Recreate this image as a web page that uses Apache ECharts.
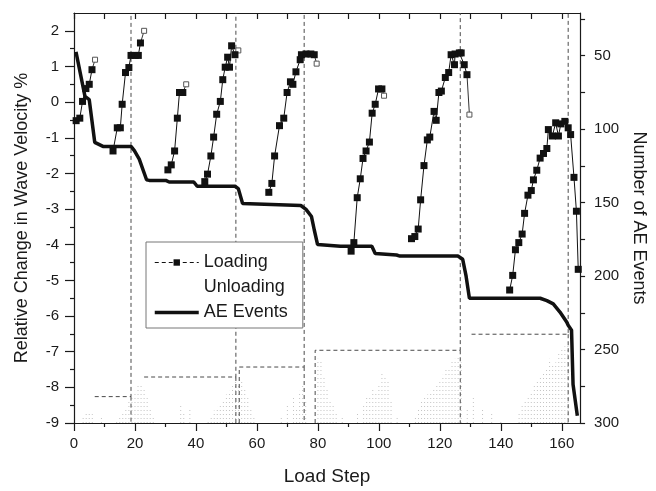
<!DOCTYPE html>
<html>
<head>
<meta charset="utf-8">
<script src="https://cdn.jsdelivr.net/npm/echarts@6/dist/echarts.min.js"></script>
<style>
html,body{margin:0;padding:0;background:#fff;}
#chart{width:656px;height:491px;}
</style>
</head>
<body>
<div id="chart"></div>
<script>
var fontName = 'Liberation Sans, Arial, sans-serif';
var ink = '#1a1a1a';

// loading groups: [load step, relative change %]
var loadGroups = [
    [[0.7,-0.52],[1.9,-0.45],[2.8,0.02],[3.9,0.38],[5.0,0.50],[5.9,0.91]],
    [[12.8,-1.37],[14.2,-0.72],[15.2,-0.72],[15.8,-0.06],[16.9,0.83],[18.0,0.97],[18.7,1.31],[20.1,1.31],[21.1,1.31],[21.8,1.66]],
    [[30.8,-1.90],[31.9,-1.76],[33.0,-1.37],[33.9,-0.45],[34.6,0.27],[35.7,0.27]],
    [[42.9,-2.23],[43.8,-2.02],[44.9,-1.51],[45.8,-0.98],[46.8,-0.34],[48.0,0.02],[48.8,0.63],[49.6,0.98],[50.4,1.26],[51.0,0.98],[51.7,1.58],[52.8,1.33]],
    [[63.9,-2.53],[64.9,-2.28],[65.8,-1.51],[67.4,-0.66],[68.8,-0.45],[69.9,0.27],[71.0,0.57],[71.8,0.50],[72.8,0.85],[74.2,1.19],[74.6,1.33],[76.1,1.35],[77.7,1.35],[78.8,1.33]],
    [[90.9,-4.18],[91.8,-3.94],[92.9,-2.68],[93.9,-2.15],[94.8,-1.58],[95.8,-1.37],[96.9,-1.12],[97.8,-0.31],[98.8,-0.06],[99.9,0.37],[101.0,0.37]],
    [[110.7,-3.83],[111.8,-3.77],[112.9,-3.56],[113.7,-2.74],[114.8,-1.78],[115.9,-1.06],[116.7,-0.98],[118.1,-0.26],[118.8,-0.51],[119.7,0.27],[120.5,0.31],[121.8,0.69],[122.9,0.83],[123.7,1.33],[124.8,1.05],[125.0,1.35],[126.4,1.38],[127.0,1.38],[128.0,1.05],[128.9,0.77]],
    [[142.9,-5.27],[143.9,-4.86],[144.8,-4.14],[145.9,-3.94],[147.0,-3.70],[147.8,-3.12],[148.9,-2.61],[150.0,-2.48],[150.7,-2.18],[151.8,-1.91],[152.9,-1.57],[154.0,-1.44],[155.1,-1.30],[155.6,-0.77],[156.9,-0.95],[158.0,-0.58],[158.9,-0.95],[159.7,-0.61],[161.0,-0.54],[162.1,-0.72],[162.9,-0.91],[164.0,-2.11],[164.8,-3.06],[165.4,-4.69]]
];
// unloading points (one per group, last group none)
var unloadX = [6.9, 23.0, 36.8, 53.9, 79.6, 101.7, 129.7];
var unloadY = [1.19, 2.0, 0.50, 1.45, 1.08, 0.18, -0.35];

// cumulative AE events (right axis)
var aeX = [0.65,3.6,5.0,6.8,7.4,9.5,18.7,19.8,21.4,23.8,24.7,30.1,31.2,39.3,40.4,52.8,53.9,55.3,74.4,76.1,77.9,78.8,79.9,87.4,97.7,98.8,105.8,106.9,125.9,127.5,128.6,129.7,152.9,155.1,157.2,159.4,161.6,162.1,163.2,163.7,165.1];
var aeN = [47.5,77.8,80,109,110.3,111.8,111.8,114.7,120.4,134.5,134.9,134.9,136,136,138.9,138.9,140.5,150.7,152,154.6,159.5,168.5,178.6,179.7,179.7,184.6,185.7,186.4,186.4,188.6,199.9,215.1,215.1,216.7,218.9,224.5,231.3,233.5,236.8,273.8,295.1];

// dashed load-level boxes (left axis units)
var boxStart = [6.8, 23.0, 54.2, 79.1, 130.4];
var boxEnd = [18.7, 53.1, 75.5, 126.7, 162.1];
var boxLevel = [-8.26, -7.71, -7.43, -6.96, -6.51];
var boxFoot = [null, null, -9, -9, null];

// faint AE hit columns near the bottom (top of column, left axis units)
var colX = [3,4,5,6,9,14,15,16,17,18,19,20,21,22,23,24,25,26,35,36,38,44,45,46,47,48,49,50,51,52,53,54,55,56,57,58,59,68,70,72,73,74,75,76,80,81,82,83,84,85,86,88,93,95,96,97,98,99,100,101,102,103,104,106,112,113,114,115,116,117,118,119,120,121,122,123,124,125,126,127,129,131,134,137,140,146,147,148,149,150,151,152,153,154,155,156,157,158,159,160,161,162];
var colTop = [-8.8,-8.7,-8.7,-8.75,-8.85,-8.9,-8.8,-8.7,-8.6,-8.4,-8.3,-8.1,-7.95,-7.9,-8.0,-8.3,-8.6,-8.8,-8.5,-8.7,-8.6,-8.9,-8.8,-8.65,-8.55,-8.5,-8.35,-8.2,-8.1,-7.95,-7.75,-7.9,-7.85,-8.05,-8.3,-8.6,-8.8,-8.8,-8.5,-8.3,-8.6,-8.1,-7.9,-8.4,-7.2,-7.25,-7.7,-8.0,-8.4,-8.5,-8.7,-8.85,-8.7,-8.5,-8.25,-8.3,-8.0,-8.1,-7.95,-7.6,-7.7,-7.8,-8.4,-8.8,-8.8,-8.6,-8.4,-8.3,-8.2,-8.1,-8.0,-7.9,-7.8,-7.65,-7.5,-7.45,-7.25,-7.2,-7.1,-7.3,-8.6,-8.3,-8.6,-8.7,-8.9,-8.7,-8.5,-8.4,-8.25,-8.1,-7.95,-7.85,-7.7,-7.6,-7.45,-7.2,-7.35,-7.3,-7.05,-6.95,-6.85,-6.75];

var xMajor = [0,20,40,60,80,100,120,140,160];
var xMinor = [10,30,50,70,90,110,130,150];
var xTop = [0,10,20,30,40,50,60,70,80,90,100,110,120,130,140,150,160];
var yMajor = [-9,-8,-7,-6,-5,-4,-3,-2,-1,0,1,2];
var yMinor = [-8.5,-7.5,-6.5,-5.5,-4.5,-3.5,-2.5,-1.5,-0.5,0.5,1.5];
var rLabels = [50,100,150,200,250,300];
var rTicks = [25,50,75,100,125,150,175,200,225,250,275,300];

var yMin = -9, yMax = 2.5, rMin = 21, rMax = 300, xMin = 0, xMax = 166;

var loadData = [];
loadGroups.forEach(function (g, k) {
    if (k > 0) loadData.push([g[0][0] - 1, '-']);
    g.forEach(function (p) { loadData.push(p); });
});

var unloadData = [];
unloadX.forEach(function (x, k) {
    var last = loadGroups[k][loadGroups[k].length - 1];
    if (k > 0) unloadData.push([last[0] - 0.5, '-']);
    unloadData.push({value: last, symbol: 'none'});
    unloadData.push([x, unloadY[k]]);
});

var aeData = aeX.map(function (x, i) { return [x, aeN[i]]; });

var boxData = [];
boxStart.forEach(function (s, k) {
    if (k > 0) boxData.push([s - 0.5, '-']);
    if (boxFoot[k] !== null) boxData.push([s, boxFoot[k]]);
    boxData.push([s, boxLevel[k]]);
    boxData.push([boxEnd[k], boxLevel[k]]);
    boxData.push([boxEnd[k], yMax]);
    boxData.push([boxEnd[k], '-']);
    boxData.push([boxEnd[k], boxLevel[k]]);
    boxData.push([boxEnd[k], yMin]);
});

var colData = [];
colX.forEach(function (x, i) {
    colData.push([x, yMin]);
    colData.push([x, colTop[i]]);
    colData.push([x, '-']);
});

var lineBlack = {color: ink, width: 1.2};

var chart = echarts.init(document.getElementById('chart'));
chart.setOption({
    animation: false,
    backgroundColor: '#fff',
    grid: {left: 74, right: 71, top: 13, bottom: 62},
    legend: {
        orient: 'vertical',
        left: 146, top: 242,
        padding: [8, 15, 3, 7],
        itemGap: 0,
        itemWidth: 44,
        itemHeight: 8,
        backgroundColor: '#fff',
        borderColor: '#777',
        borderWidth: 1,
        borderRadius: 0,
        textStyle: {color: ink, fontSize: 18, fontFamily: fontName, lineHeight: 25},
        data: [
            {name: 'Loading', lineStyle: {type: [4, 3], width: 1}},
            {name: 'Unloading', itemStyle: {opacity: 0}, lineStyle: {opacity: 0}},
            {name: 'AE Events', itemStyle: {opacity: 0}, lineStyle: {width: 3.5}}
        ]
    },
    xAxis: [
        {
            type: 'value', position: 'bottom', min: xMin, max: xMax,
            name: 'Load Step', nameLocation: 'middle', nameGap: 44,
            nameTextStyle: {color: ink, fontSize: 19, fontFamily: fontName},
            axisLine: {onZero: false, lineStyle: lineBlack},
            axisTick: {customValues: xMajor, length: 8, lineStyle: lineBlack},
            axisLabel: {customValues: xMajor, margin: 13, color: ink, fontSize: 15, fontFamily: fontName},
            splitLine: {show: false}
        },
        {
            type: 'value', position: 'bottom', min: xMin, max: xMax,
            axisLine: {show: false, onZero: false},
            axisTick: {customValues: xMinor, length: 4, lineStyle: lineBlack},
            axisLabel: {show: false}, splitLine: {show: false}
        },
        {
            type: 'value', position: 'top', min: xMin, max: xMax,
            axisLine: {onZero: false, lineStyle: lineBlack},
            axisTick: {customValues: xTop, inside: true, length: 6, lineStyle: lineBlack},
            axisLabel: {show: false}, splitLine: {show: false}
        }
    ],
    yAxis: [
        {
            type: 'value', position: 'left', min: yMin, max: yMax,
            name: 'Relative Change in Wave Velocity %', nameLocation: 'middle', nameGap: 43,
            nameTextStyle: {color: ink, fontSize: 18, fontFamily: fontName},
            axisLine: {show: true, onZero: false, lineStyle: lineBlack},
            axisTick: {show: true, customValues: yMajor, length: 9, lineStyle: lineBlack},
            axisLabel: {customValues: yMajor, margin: 15, color: ink, fontSize: 15, fontFamily: fontName},
            splitLine: {show: false}
        },
        {
            type: 'value', position: 'left', min: yMin, max: yMax,
            axisLine: {show: false, onZero: false},
            axisTick: {show: true, customValues: yMinor, length: 4, lineStyle: lineBlack},
            axisLabel: {show: false}, splitLine: {show: false}
        },
        {
            type: 'value', position: 'right', inverse: true, min: rMin, max: rMax,
            name: 'Number of AE Events', nameLocation: 'middle', nameGap: 48, nameRotate: -90,
            nameTextStyle: {color: ink, fontSize: 18, fontFamily: fontName},
            axisLine: {show: true, onZero: false, lineStyle: lineBlack},
            axisTick: {show: true, customValues: rTicks, length: 5, lineStyle: lineBlack},
            axisLabel: {customValues: rLabels, margin: 14, color: ink, fontSize: 15, fontFamily: fontName},
            splitLine: {show: false}
        }
    ],
    series: [
        {
            name: 'hits', type: 'line', data: colData, xAxisIndex: 0, yAxisIndex: 0,
            symbol: 'none', silent: true, z: 1,
            lineStyle: {color: '#c4c4c4', width: 1, type: [1, 3]}
        },
        {
            name: 'levels', type: 'line', data: boxData, xAxisIndex: 0, yAxisIndex: 0,
            symbol: 'none', silent: true, z: 2,
            lineStyle: {color: '#4a4a4a', width: 1, type: [4, 3]}
        },
        {
            name: 'AE Events', type: 'line', data: aeData, xAxisIndex: 0, yAxisIndex: 2,
            symbol: 'none', z: 3,
            lineStyle: {color: '#111', width: 3.5},
            itemStyle: {color: '#111'}
        },
        {
            name: 'Unloading', type: 'line', data: unloadData, xAxisIndex: 0, yAxisIndex: 0,
            symbol: 'rect', symbolSize: 5, z: 4,
            lineStyle: {color: '#333', width: 1},
            itemStyle: {color: '#fff', borderColor: '#555', borderWidth: 1}
        },
        {
            name: 'Loading', type: 'line', data: loadData, xAxisIndex: 0, yAxisIndex: 0,
            symbol: 'rect', symbolSize: 7, z: 5,
            lineStyle: {color: '#111', width: 1},
            itemStyle: {color: '#111'}
        }
    ]
});
</script>
</body>
</html>
